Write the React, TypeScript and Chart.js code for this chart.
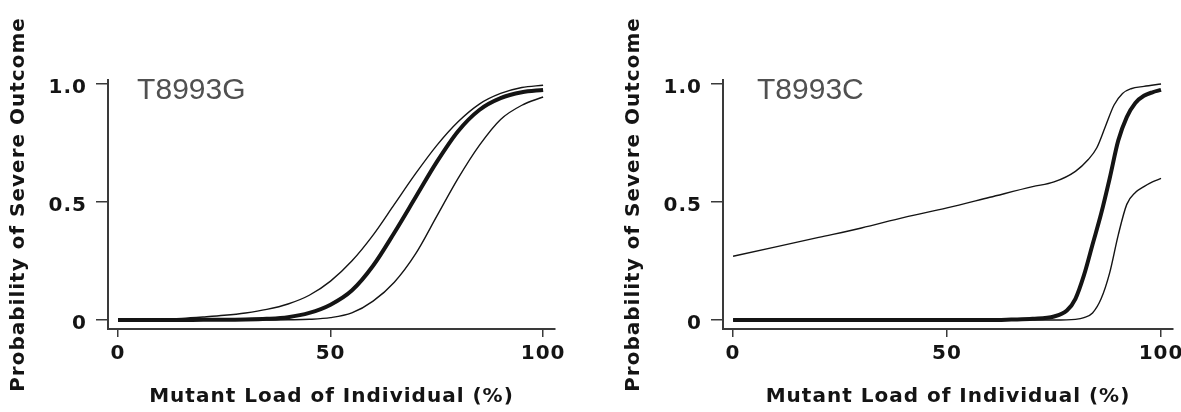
import React, { useEffect, useRef } from "react";
import { Chart, registerables } from "chart.js";

Chart.register(...registerables);

// ---------- axis ticks ----------
const xTickValues = [0, 50, 100];
const yTickValues = [0, 0.5, 1];
const yTickLabels = ["0", "0.5", "1.0"];
const xAxisTitle = "Mutant Load of Individual (%)";
const yAxisTitle = "Probability of Severe Outcome";

// ---------- T8993G ----------
const gLoad = [0, 5, 10, 15, 20, 25, 30, 35, 40, 45, 50, 55, 60, 65, 70, 75, 80, 85, 90, 95, 100];
const gUpper = [0, 0.001, 0.003, 0.007, 0.013, 0.02, 0.03, 0.045, 0.068, 0.105, 0.165, 0.25, 0.36, 0.49, 0.62, 0.74, 0.84, 0.915, 0.96, 0.985, 0.995];
const gCentral = [0, 0, 0, 0, 0.001, 0.001, 0.002, 0.005, 0.012, 0.03, 0.065, 0.125, 0.23, 0.37, 0.52, 0.67, 0.8, 0.89, 0.94, 0.965, 0.975];
const gLower = [0, 0, 0, 0, 0, 0, 0, 0, 0.001, 0.003, 0.01, 0.03, 0.08, 0.16, 0.28, 0.44, 0.6, 0.74, 0.85, 0.91, 0.945];

// ---------- T8993C ----------
const cUpperLoad = [0, 10, 20, 30, 40, 50, 60, 70, 75, 80, 83, 85, 87, 89, 91, 93, 96, 100];
const cUpper = [0.27, 0.31, 0.35, 0.39, 0.435, 0.475, 0.52, 0.565, 0.585, 0.63, 0.68, 0.73, 0.82, 0.91, 0.96, 0.98, 0.99, 1.0];
const cCentralLoad = [0, 20, 40, 60, 65, 70, 75, 78, 80, 82, 84, 86, 88, 90, 92, 94, 96, 98, 100];
const cCentral = [0, 0, 0, 0, 0.002, 0.005, 0.015, 0.04, 0.09, 0.19, 0.32, 0.45, 0.6, 0.76, 0.86, 0.92, 0.95, 0.965, 0.975];
const cLowerLoad = [0, 20, 40, 60, 75, 80, 82, 84, 86, 88, 90, 92, 94, 96, 98, 100];
const cLower = [0, 0, 0, 0, 0, 0.003, 0.01, 0.03, 0.09, 0.2, 0.36, 0.49, 0.54, 0.565, 0.585, 0.6];

const INK = "#141414";
const AXIS = "#3a3a3a";
const BOLD_FONT = "'DejaVu Sans', sans-serif";

function toPoints(xs: number[], ys: number[]) {
  return xs.map((x, i) => ({ x, y: ys[i] }));
}

const spacingPlugin = {
  id: "letterSpacing",
  beforeDraw(chart: any) {
    chart.ctx.letterSpacing = "1px";
  },
  afterDraw(chart: any) {
    chart.ctx.letterSpacing = "0px";
  },
};

function makeLabelPlugin(text: string, xValue: number, yValue: number) {
  return {
    id: "panelLabel",
    afterDraw(chart: any) {
      const ctx = chart.ctx;
      const xs = chart.scales.x;
      const ys = chart.scales.y;
      ctx.save();
      ctx.letterSpacing = "0px";
      ctx.font = "30px 'Liberation Sans', Arial, sans-serif";
      ctx.fillStyle = "#505050";
      ctx.textAlign = "left";
      ctx.textBaseline = "middle";
      ctx.fillText(text, xs.getPixelForValue(xValue), ys.getPixelForValue(yValue));
      ctx.restore();
    },
  };
}

type PanelProps = {
  label: string;
  labelX: number;
  left: number;
  width: number;
  upper: { x: number; y: number }[];
  central: { x: number; y: number }[];
  lower: { x: number; y: number }[];
};

function Panel({ label, labelX, left, width, upper, central, lower }: PanelProps) {
  const ref = useRef<HTMLCanvasElement>(null);

  useEffect(() => {
    if (!ref.current) return;
    const thin = (data: any) => ({
      data,
      borderColor: INK,
      borderWidth: 1.4,
      pointRadius: 0,
      fill: false,
      cubicInterpolationMode: "monotone" as const,
    });
    const chart = new Chart(ref.current, {
      type: "line",
      data: {
        datasets: [
          thin(upper),
          thin(lower),
          { ...thin(central), borderWidth: 4 },
        ],
      },
      options: {
        animation: false,
        responsive: false,
        devicePixelRatio: 1,
        layout: { padding: { top: 80, right: 35, left: 0, bottom: 0 } },
        plugins: { legend: { display: false }, tooltip: { enabled: false } },
        scales: {
          x: {
            type: "linear",
            min: -2.35,
            max: 102.8,
            afterBuildTicks: (s: any) => {
              s.ticks = xTickValues.map((v) => ({ value: v }));
            },
            afterFit: (s: any) => {
              s.height = 83;
            },
            grid: { drawOnChartArea: false, drawTicks: true, tickLength: 8, color: AXIS, lineWidth: 1.5 },
            border: { display: true, color: AXIS, width: 2 },
            ticks: {
              padding: 5,
              color: INK,
              autoSkip: false,
              maxRotation: 0,
              font: { family: BOLD_FONT, weight: "bold", size: 20 },
              callback: (v: any) => String(v),
            },
            title: {
              display: true,
              text: xAxisTitle,
              color: INK,
              font: { family: BOLD_FONT, weight: "bold", size: 20 },
              padding: { top: 0, bottom: 3 },
            },
          },
          y: {
            type: "linear",
            min: -0.038,
            max: 1.017,
            afterBuildTicks: (s: any) => {
              s.ticks = yTickValues.map((v) => ({ value: v }));
            },
            afterFit: (s: any) => {
              s.width = 108;
            },
            grid: { drawOnChartArea: false, drawTicks: true, tickLength: 12, color: AXIS, lineWidth: 1.5 },
            border: { display: true, color: AXIS, width: 2 },
            ticks: {
              padding: 9,
              color: INK,
              autoSkip: false,
              labelOffset: 4,
              font: { family: BOLD_FONT, weight: "bold", size: 20 },
              callback: (_v: any, i: number) => yTickLabels[i],
            },
            title: {
              display: true,
              text: yAxisTitle,
              color: INK,
              font: { family: BOLD_FONT, weight: "bold", size: 20 },
              padding: { top: 7, bottom: 0 },
            },
          },
        },
      },
      plugins: [spacingPlugin, makeLabelPlugin(label, labelX, 0.97)],
    } as any);
    return () => chart.destroy();
  }, []);

  return (
    <canvas
      ref={ref}
      width={width}
      height={412}
      style={{ position: "absolute", left, top: 0, width, height: 412, display: "block" }}
    />
  );
}

export default function App() {
  return (
    <div
      style={{
        position: "fixed",
        left: 0,
        top: 0,
        width: 1181,
        height: 412,
        overflow: "hidden",
        background: "#ffffff",
      }}
    >
      <Panel
        label="T8993G"
        labelX={4.5}
        left={0}
        width={590}
        upper={toPoints(gLoad, gUpper)}
        central={toPoints(gLoad, gCentral)}
        lower={toPoints(gLoad, gLower)}
      />
      <Panel
        label="T8993C"
        labelX={5.6}
        left={615}
        width={593}
        upper={toPoints(cUpperLoad, cUpper)}
        central={toPoints(cCentralLoad, cCentral)}
        lower={toPoints(cLowerLoad, cLower)}
      />
    </div>
  );
}
